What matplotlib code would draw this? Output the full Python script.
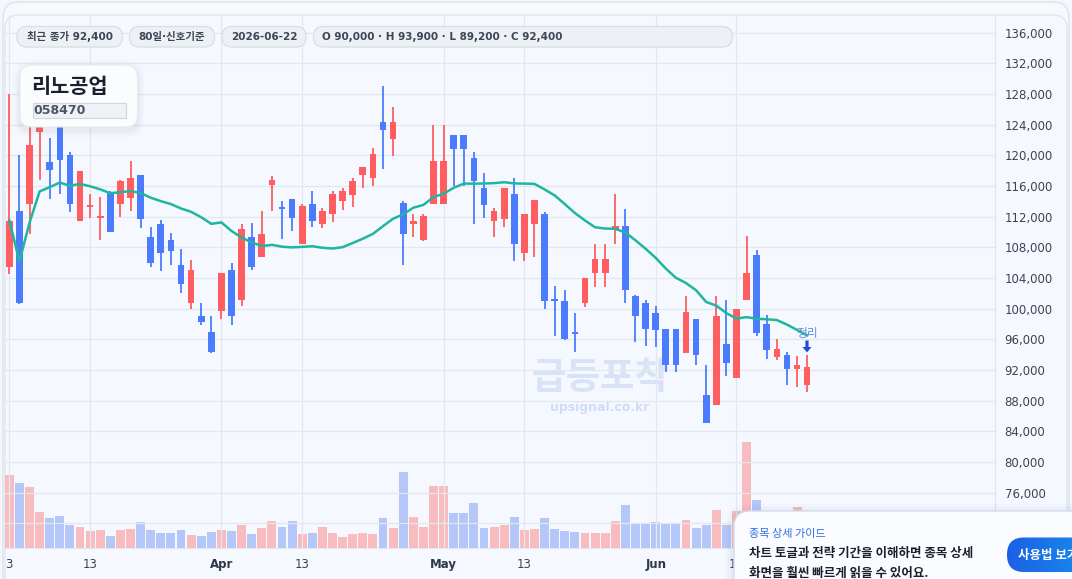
import numpy as np
import matplotlib
matplotlib.use("Agg")
import matplotlib.pyplot as plt
from matplotlib.patches import FancyBboxPatch, FancyArrow
from matplotlib.colors import LinearSegmentedColormap

plt.rcParams['font.family'] = ['DejaVu Sans', 'Noto Sans CJK KR']

# ---- daily candles, 80 trading days ----
opens = [105400, 112800, 113600, 123000, 119200, 124000, 120100, 111400, 113400, 111900,
         115100, 113600, 114500, 117400, 109300, 111100, 109000, 105700, 100800, 99000,
         96900, 99700, 105100, 101200, 109300, 106700, 116100, 113200, 114300, 108400,
         113600, 111000, 112400, 114100, 114800, 117400, 117000, 124300, 122100, 113800,
         111100, 108900, 113700, 113700, 122600, 122600, 119700, 115800, 111400, 111700,
         114900, 107300, 111100, 112400, 101200, 101000, 97000, 100800, 104600, 104600,
         110400, 110800, 101600, 100800, 99500, 97400, 97400, 94200, 98600, 88800,
         87400, 95400, 90900, 101200, 107000, 98000, 93700, 94000, 92200, 90000]
highs = [128000, 120000, 123800, 128500, 122300, 125500, 120500, 117900, 114900, 114600,
         115300, 116800, 119300, 117400, 110700, 111600, 109900, 107800, 106300, 100800,
         99000, 104600, 105900, 111000, 111200, 112800, 117300, 114000, 114300, 113700,
         115400, 113200, 115400, 115800, 117000, 118500, 121000, 129100, 126300, 114100,
         112300, 112300, 124000, 124000, 122700, 122700, 120500, 117700, 113200, 115800,
         117000, 112400, 114200, 112600, 102900, 102500, 99500, 104000, 108500, 108500,
         114900, 113000, 101800, 101200, 100300, 97400, 97400, 101600, 98600, 92600,
         101600, 101200, 99900, 109500, 107700, 99200, 96000, 94300, 93800, 93900]
lows = [104500, 100600, 109700, 116800, 114300, 115000, 112600, 111400, 111800, 108900,
        110000, 111900, 112700, 110500, 105400, 104900, 105700, 102100, 99900, 97900,
        94200, 98600, 97900, 100300, 105000, 106700, 112700, 109100, 110100, 108400,
        110700, 110500, 111300, 112900, 113300, 115700, 116000, 118200, 119900, 105700,
        109300, 108800, 113700, 113700, 116000, 116000, 111100, 111800, 109300, 110600,
        106200, 106200, 106800, 100000, 96400, 95900, 94400, 100200, 102800, 102800,
        108500, 100800, 95700, 95100, 95000, 91800, 91800, 94200, 92700, 85100,
        87400, 91200, 90900, 101200, 96500, 93400, 93300, 90000, 89800, 89200]
closes = [111500, 100800, 121400, 127500, 118100, 119400, 113600, 117900, 113500, 112000,
          110000, 116700, 117100, 111700, 106000, 107300, 107500, 103200, 105000, 98300,
          94300, 104600, 99000, 110400, 105400, 109800, 116800, 113100, 111800, 113400,
          111500, 112800, 115000, 115400, 116700, 118500, 120200, 123300, 124400, 109700,
          111500, 112100, 119300, 119300, 120800, 120800, 116600, 113500, 112700, 115800,
          108400, 112400, 114200, 101000, 101000, 96000, 96700, 104000, 106500, 106500,
          110800, 102400, 99000, 97300, 97200, 92700, 92700, 99600, 94000, 85100,
          99000, 92900, 99900, 104600, 96800, 94600, 94700, 92200, 92600, 92400]
volumes = [218000, 194000, 182000, 107000, 89000, 95000, 68000, 62000, 50000, 53000,
           35000, 53000, 56000, 77000, 53000, 44000, 44000, 53000, 38000, 35000,
           47000, 53000, 50000, 68000, 41000, 59000, 80000, 62000, 80000, 41000,
           44000, 62000, 44000, 32000, 41000, 44000, 41000, 89000, 59000, 227000,
           92000, 62000, 185000, 185000, 104000, 104000, 134000, 59000, 62000, 68000,
           92000, 53000, 56000, 89000, 56000, 50000, 47000, 44000, 44000, 44000,
           80000, 128000, 74000, 74000, 77000, 74000, 74000, 83000, 59000, 68000,
           113000, 68000, 110000, 317000, 143000, 90000, 66000, 75000, 122000, 84000]
# 20-day moving average line as drawn
ma20 = [111500, 106150, 111230, 115300, 115860, 116450, 116040, 116280, 115970, 115570,
        115060, 115200, 115350, 115090, 114480, 114030, 113650, 113070, 112640, 111930,
        111070, 111260, 110140, 109280, 108650, 108170, 108330, 108090, 108000, 108070,
        108150, 107950, 107850, 108030, 108570, 109130, 109760, 110770, 111740, 112310,
        113170, 113540, 114560, 115000, 115770, 116320, 116310, 116330, 116380, 116500,
        116340, 116320, 116280, 115560, 114780, 113650, 112480, 111510, 110620, 110460,
        110420, 109940, 108920, 107820, 106640, 105240, 104040, 103350, 102410, 100880,
        100410, 99430, 98720, 98900, 98690, 98620, 98520, 97930, 97230, 96530]

tick_pos = [0, 8, 21, 29, 43, 51, 64, 72]
tick_labels = ['3', '13', 'Apr', '13', 'May', '13', 'Jun', '13']
month_labels = ['Apr', 'May', 'Jun']
price_ticks = list(range(72000, 136001, 4000))

stock_name = '리노공업'
stock_code = '058470'

RED = '#ff5d5f'
BLUE = '#4b7cfd'
VOL_RED = '#f8bcbe'
VOL_BLUE = '#b5c7f8'

W, H = 1072, 579
fig = plt.figure(figsize=(W / 100, H / 100), dpi=100)
fig.patch.set_facecolor('#f3f6fa')


def rect_px(x0, y0, x1, y1):
    return [x0 / W, 1 - y1 / H, (x1 - x0) / W, (y1 - y0) / H]


# background card + watermark (pixel coordinates)
bg = fig.add_axes([0, 0, 1, 1], zorder=0)
bg.set_xlim(0, W)
bg.set_ylim(H, 0)
bg.axis('off')
bg.add_patch(FancyBboxPatch((3, 2), 1066, 620, boxstyle='round,pad=0,rounding_size=16',
                            fc='#f7f9fc', ec='#dce2eb', lw=1))
bg.add_patch(FancyBboxPatch((5, 15), 1062, 620, boxstyle='round,pad=0,rounding_size=14',
                            fc='#f5f8fe', ec='#e1e6ee', lw=1))
bg.text(600, 377, '급등포착', fontsize=27, fontweight='bold', color='#d9e3f7',
        ha='center', va='center', family='Noto Sans CJK KR')
bg.text(600, 407, 'upsignal.co.kr', fontsize=9, fontweight='bold', color='#d1dcf5',
        ha='center', va='center')

plot_rect = rect_px(5, 15, 995, 548)
xlim = (-0.43, 97.6)
x = np.arange(len(closes))
o = np.array(opens)
c = np.array(closes)
up = c >= o

# volume bars on their own scale
axv = fig.add_axes(plot_rect, zorder=1)
axv.patch.set_visible(False)
axv.bar(x, volumes, width=0.88, color=np.where(up, VOL_RED, VOL_BLUE), linewidth=0)
axv.set_xlim(*xlim)
axv.set_ylim(0, 533 * 3000)
axv.axis('off')

# price axes
ax = fig.add_axes(plot_rect, zorder=2)
ax.patch.set_visible(False)
ax.set_xlim(*xlim)
ax.set_ylim(68790, 138310)

colors = np.where(up, RED, BLUE)
ax.vlines(x, lows, highs, color=colors, lw=1.3, zorder=3)
body_h = np.abs(c - o)
body_min = 260
body_bot = np.where(body_h < body_min, (o + c) / 2 - body_min / 2, np.minimum(o, c))
ax.bar(x, np.maximum(body_h, body_min), bottom=body_bot, width=0.66, color=colors,
       linewidth=0, zorder=4)
ax.plot(x, ma20, color='#1fb6a0', lw=1.8, zorder=5, solid_joinstyle='round')

ax.yaxis.tick_right()
ax.set_yticks(price_ticks)
ax.set_yticklabels([f'{v:,}' for v in price_ticks], fontsize=8.5, color='#3c4452')
ax.tick_params(axis='y', length=0, pad=7)
ax.set_xticks(tick_pos)
ax.set_xticklabels(tick_labels, fontsize=8.5, color='#3c4452')
for lab in ax.get_xticklabels():
    if lab.get_text() in month_labels:
        lab.set_fontweight('bold')
        lab.set_color('#2d3748')
ax.tick_params(axis='x', length=0, pad=7)
ax.grid(True, color='#e3e7ee', lw=0.9)
ax.set_axisbelow(True)
for s in ['top', 'left']:
    ax.spines[s].set_visible(False)
ax.spines['right'].set_color('#dfe4ec')
ax.spines['bottom'].set_color('#e4e8ef')

# overlay widgets (pixel coordinates)
ov = fig.add_axes([0, 0, 1, 1], zorder=5)
ov.set_xlim(0, W)
ov.set_ylim(H, 0)
ov.axis('off')


def pill(x0, x1, text, left=None):
    ov.add_patch(FancyBboxPatch((x0, 26.5), x1 - x0, 20.5, boxstyle='round,pad=0,rounding_size=10',
                                fc='#edf0f5', ec='#d8dde6', lw=0.9))
    if left is None:
        ov.text((x0 + x1) / 2, 37, text, fontsize=7.5, fontweight='bold', color='#3d4656',
                ha='center', va='center')
    else:
        ov.text(left, 37, text, fontsize=7.5, fontweight='bold', color='#3d4656',
                ha='left', va='center')


pill(17, 122.5, f'최근 종가 {closes[-1]:,}')
pill(129.5, 214.5, '80일·신호기준')
pill(222, 306, '2026-06-22')
pill(313.5, 732.5, f'O {opens[-1]:,} · H {highs[-1]:,} · L {lows[-1]:,} · C {closes[-1]:,}', left=322)

# name card
for k, a in [(7, 0.025), (4, 0.035), (2, 0.045)]:
    ov.add_patch(FancyBboxPatch((20 - k, 65 - k + 3), 117.5 + 2 * k, 62 + 2 * k,
                                boxstyle=f'round,pad=0,rounding_size={12 + k}',
                                fc='#64748b', ec='none', alpha=a))
ov.add_patch(FancyBboxPatch((20, 65), 117.5, 62, boxstyle='round,pad=0,rounding_size=12',
                            fc='#fbfcfe', ec='#e6eaf0', lw=0.8))
ov.text(31.5, 86.5, stock_name, fontsize=15, fontweight='bold', color='#1a202c',
        ha='left', va='center', family='Noto Sans CJK KR')
ov.add_patch(FancyBboxPatch((32.5, 102.5), 93, 15, boxstyle='square,pad=0',
                            fc='#eef1f5', ec='#cfd5de', lw=0.8))
ov.text(33.5, 110, stock_code, fontsize=9, fontweight='bold', color='#4a5568',
        ha='left', va='center')

# signal marker on the last candle
ov.text(807, 333, '정리', fontsize=8.5, color='#6a8edd', ha='center', va='center',
        family='Noto Sans CJK KR')
ov.add_patch(FancyArrow(807, 340.5, 0, 12, width=3.2, head_width=9, head_length=5.5,
                        length_includes_head=True, color='#1d4ed8', lw=0))

# guide popup
for k, a in [(9, 0.02), (6, 0.03), (3, 0.04)]:
    ov.add_patch(FancyBboxPatch((734 - k, 511 - k + 2), 400 + 2 * k, 120,
                                boxstyle=f'round,pad=0,rounding_size={16 + k}',
                                fc='#475569', ec='none', alpha=a))
ov.add_patch(FancyBboxPatch((734, 511), 400, 120, boxstyle='round,pad=0,rounding_size=16',
                            fc='#fbfcff', ec='#d2ddf2', lw=1))
ov.text(749, 534.5, '종목 상세 가이드', fontsize=8, color='#2f6ee0', ha='left', va='center',
        family='Noto Sans CJK KR')
ov.text(749, 553, '차트 토글과 전략 기간을 이해하면 종목 상세', fontsize=9, fontweight='bold',
        color='#1a202c', ha='left', va='center', family='Noto Sans CJK KR')
ov.text(749, 573, '화면을 훨씬 빠르게 읽을 수 있어요.', fontsize=9, fontweight='bold',
        color='#1a202c', ha='left', va='center', family='Noto Sans CJK KR')

btn = FancyBboxPatch((1007, 537.5), 120, 34.5, boxstyle='round,pad=0,rounding_size=17',
                     fc='none', ec='none')
ov.add_patch(btn)
grad = np.linspace(0, 1, 256).reshape(1, -1)
cmap = LinearSegmentedColormap.from_list('btn', ['#1d5fe6', '#12a2ee'])
im = ov.imshow(grad, extent=[1007, 1127, 572, 537.5], cmap=cmap, aspect='auto', zorder=6)
im.set_clip_path(btn)
ov.text(1017.5, 555, '사용법 보기', fontsize=9, fontweight='bold', color='white',
        ha='left', va='center', zorder=7, family='Noto Sans CJK KR')
ov.set_xlim(0, W)
ov.set_ylim(H, 0)

fig.savefig('out.png', dpi=100, facecolor=fig.get_facecolor())
